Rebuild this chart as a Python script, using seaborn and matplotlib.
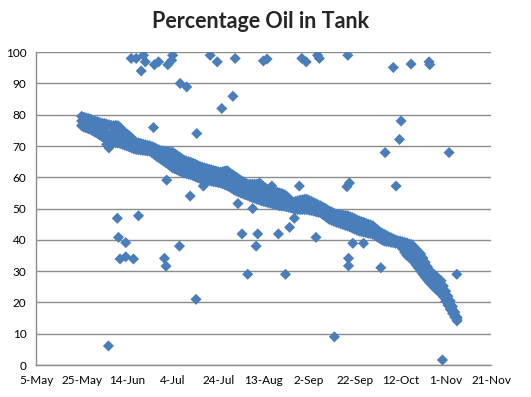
import pandas as pd
import numpy as np
import seaborn as sns
import matplotlib.pyplot as plt
import matplotlib.dates as mdates

start = pd.Timestamp("2013-05-05")

# day offsets from 5-May for the daily readings
band_days = list(range(20, 186))

band_high = [
    79.5, 79.2, 79.0, 78.8, 78.6, 78.2, 78.0, 77.8, 77.5, 77.3,
    77.2, 77.0, 76.8, 76.6, 76.5, 76.6, 76.5, 75.8, 75.0, 74.3,
    73.8, 73.2, 72.5, 71.8, 71.1, 71.0, 70.8, 70.6, 70.4, 70.2,
    70.1, 69.8, 69.5, 69.1, 68.8, 68.5, 68.4, 68.3, 68.2, 68.1,
    68.0, 67.5, 67.0, 66.5, 66.0, 65.5, 65.2, 65.0, 64.8, 64.5,
    64.2, 63.8, 63.5, 63.2, 63.0, 62.8, 62.6, 62.4, 62.2, 62.0,
    61.8, 61.6, 61.8, 62.0, 62.1, 61.5, 61.0, 60.5, 60.0, 59.5,
    59.0, 58.6, 58.2, 57.8, 57.8, 57.8, 57.8, 57.8, 57.8, 57.6,
    57.0, 56.5, 56.0, 55.8, 55.6, 55.4, 55.2, 55.0, 54.8, 54.5,
    54.0, 53.3, 52.6, 52.0, 52.3, 52.5, 52.7, 52.8, 53.0, 53.0,
    52.6, 52.3, 51.9, 51.6, 51.2, 50.9, 50.5, 50.1, 49.6, 49.2,
    48.9, 48.5, 48.2, 48.1, 48.0, 47.9, 47.8, 47.7, 47.4, 47.1,
    46.8, 46.4, 46.1, 45.8, 45.6, 45.3, 45.0, 44.8, 44.5, 43.8,
    43.2, 42.6, 42.2, 41.8, 41.4, 41.0, 40.7, 40.3, 40.0, 39.7,
    39.6, 39.4, 39.2, 39.0, 38.7, 38.5, 37.8, 37.0, 36.2, 35.5,
    34.2, 32.8, 31.4, 30.1, 29.5, 28.8, 28.2, 27.5, 26.9, 25.2,
    23.6, 22.0, 20.5, 18.7, 16.9, 15.2,
]

band_mid = [
    78.0, 77.6, 77.4, 77.2, 77.0, 76.5, 76.2, 75.9, 75.5, 75.2,
    74.9, 73.8, 73.1, 73.7, 73.9, 73.8, 73.8, 73.3, 72.8, 72.3,
    71.9, 71.5, 71.0, 70.5, 70.0, 69.9, 69.8, 69.6, 69.5, 69.3,
    69.3, 68.8, 68.4, 67.9, 67.5, 67.1, 66.8, 66.5, 66.2, 65.9,
    65.5, 65.1, 64.7, 64.3, 63.9, 63.5, 63.2, 63.0, 62.8, 62.5,
    62.2, 61.9, 61.6, 61.3, 61.1, 60.9, 60.8, 60.6, 60.4, 60.3,
    60.1, 59.9, 59.9, 59.8, 59.7, 59.2, 58.8, 58.3, 57.8, 57.4,
    57.0, 56.7, 56.3, 56.0, 55.8, 55.7, 55.6, 55.4, 55.3, 55.1,
    54.7, 54.3, 54.0, 53.8, 53.6, 53.4, 53.2, 53.0, 52.8, 52.7,
    52.3, 51.9, 51.4, 51.0, 51.1, 51.1, 51.2, 51.3, 51.4, 51.4,
    51.1, 50.9, 50.6, 50.3, 50.0, 49.8, 49.3, 48.9, 48.3, 47.9,
    47.6, 47.2, 46.9, 46.8, 46.6, 46.4, 46.2, 46.1, 45.8, 45.5,
    45.1, 44.8, 44.5, 44.2, 44.1, 43.8, 43.6, 43.4, 43.2, 42.6,
    42.1, 41.6, 41.1, 40.7, 40.5, 40.2, 40.0, 39.7, 39.5, 39.3,
    39.1, 38.3, 37.6, 37.0, 36.6, 36.3, 35.4, 34.5, 33.6, 32.8,
    31.6, 30.5, 29.3, 28.2, 27.6, 26.8, 26.2, 25.5, 25.0, 23.5,
    22.0, 20.6, 19.2, 17.6, 16.1, 14.7,
]

band_low = [
    76.5, 76.0, 75.8, 75.5, 75.3, 74.8, 74.4, 74.0, 73.5, 73.0,
    72.6, 70.5, 69.4, 70.8, 71.2, 71.0, 71.0, 70.8, 70.5, 70.2,
    70.0, 69.7, 69.4, 69.1, 68.9, 68.8, 68.7, 68.6, 68.5, 68.4,
    68.4, 67.8, 67.3, 66.7, 66.2, 65.7, 65.2, 64.7, 64.2, 63.6,
    63.0, 62.7, 62.4, 62.0, 61.7, 61.4, 61.2, 61.0, 60.8, 60.5,
    60.2, 59.9, 59.6, 59.3, 59.2, 59.0, 58.9, 58.8, 58.6, 58.5,
    58.3, 58.2, 57.9, 57.6, 57.3, 56.9, 56.5, 56.0, 55.6, 55.3,
    55.0, 54.7, 54.4, 54.2, 53.8, 53.5, 53.3, 53.0, 52.8, 52.5,
    52.3, 52.1, 51.9, 51.7, 51.5, 51.3, 51.1, 50.9, 50.8, 50.8,
    50.6, 50.4, 50.2, 50.0, 49.8, 49.7, 49.7, 49.7, 49.7, 49.7,
    49.5, 49.4, 49.2, 49.0, 48.8, 48.7, 48.1, 47.6, 47.0, 46.5,
    46.2, 45.9, 45.6, 45.4, 45.1, 44.9, 44.6, 44.4, 44.1, 43.8,
    43.4, 43.1, 42.8, 42.6, 42.5, 42.3, 42.1, 42.0, 41.8, 41.4,
    40.9, 40.5, 40.0, 39.6, 39.5, 39.4, 39.2, 39.1, 38.9, 38.8,
    38.6, 37.2, 36.0, 35.0, 34.4, 34.0, 33.0, 32.0, 31.0, 30.0,
    29.0, 28.1, 27.2, 26.3, 25.6, 24.8, 24.1, 23.4, 23.1, 21.8,
    20.4, 19.1, 17.8, 16.5, 15.3, 14.1,
]

# stray readings away from the main trend
odd_days = [
    41.8, 44.0, 47.2, 48.0, 46.2, 52.0, 53.8, 57.9, 59.6, 60.0,
    63.3, 66.2, 76.5, 79.6, 87.5, 99.9, 101.5, 116.8, 118.7, 123.7,
    124.5, 137.0, 157.0, 164.8, 172.7, 173.0,
    81.6, 86.5, 51.6, 70.6, 160.4, 159.7, 153.4, 181.5, 158.2,
    57.4, 67.7, 35.7, 45.0, 36.2, 39.4, 63.0, 36.9, 39.4, 42.8,
    56.4, 57.1, 70.3, 31.8,
    73.5, 88.7, 95.2, 98.2, 103.6, 115.7, 137.7, 136.6, 90.5, 97.4,
    96.7, 106.5, 111.4, 113.5, 123.0, 93.0, 109.6, 139.2, 137.3, 137.3,
    131.1, 143.9, 151.5, 184.9, 178.6,
]
odd_values = [
    98.0, 98.0, 99.0, 96.9, 94.0, 96.0, 96.9, 96.0, 97.4, 99.0,
    90.0, 88.9, 99.0, 96.9, 98.0, 97.2, 97.8, 98.0, 96.9, 99.0,
    98.0, 99.0, 95.1, 96.2, 96.9, 96.0,
    82.0, 85.9, 75.9, 74.0, 78.0, 72.1, 67.9, 67.9, 57.2,
    59.1, 54.0, 46.9, 47.7, 40.8, 39.1, 38.0, 33.9, 34.6, 33.9,
    34.1, 31.6, 21.0, 6.1,
    57.2, 51.6, 50.0, 58.2, 57.2, 57.2, 58.2, 57.0, 41.9, 41.9,
    38.0, 41.9, 44.0, 46.9, 40.8, 29.0, 29.0, 38.9, 34.1, 31.7,
    9.0, 38.9, 31.1, 29.0, 1.6,
]

days = band_days * 3 + odd_days
values = band_high + band_mid + band_low + odd_values
df = pd.DataFrame({
    "Date": start + pd.to_timedelta(days, unit="D"),
    "Oil": values,
})

sns.set_style("white")
plt.rcParams["font.family"] = ["Lato", "DejaVu Sans"]

fig = plt.figure(figsize=(5.31, 3.97), dpi=100)
ax = fig.add_axes([0.068, 0.0806, 0.857, 0.788])

sns.scatterplot(data=df, x="Date", y="Oil", marker="D", s=32, color="#4A7EBB",
                edgecolor="none", linewidth=0, ax=ax, legend=False, zorder=3)

ticks = pd.date_range(start, periods=11, freq="20D")
ax.set_xlim(ticks[0], ticks[-1])
ax.set_xticks(ticks)
ax.xaxis.set_major_formatter(mdates.DateFormatter("%-d-%b"))
ax.set_ylim(0, 100)
ax.set_yticks(range(0, 101, 10))
ax.yaxis.grid(True, color="#8C8C8C", linewidth=1)
ax.set_axisbelow(True)
ax.set_xlabel("")
ax.set_ylabel("")
for side in ["top", "right"]:
    ax.spines[side].set_visible(False)
for side in ["left", "bottom"]:
    ax.spines[side].set_color("#8C8C8C")
    ax.spines[side].set_linewidth(1)
ax.tick_params(axis="both", direction="out", length=4, width=1, color="#8C8C8C",
               labelsize=8.5, labelcolor="#000000", pad=3)

fig.text(0.49, 0.945, "Percentage Oil in Tank", ha="center", va="center",
         fontsize=15.5, fontweight="bold")

plt.savefig("out.png", dpi=100)
